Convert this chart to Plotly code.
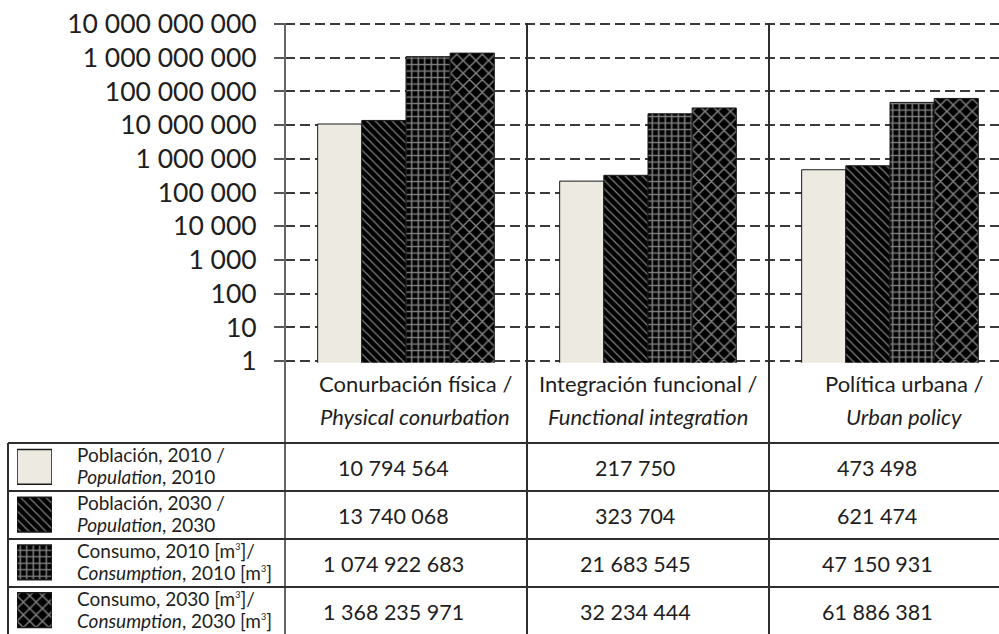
import plotly.graph_objects as go

# ---------------- data ----------------
categories_es = ["Conurbación física /", "Integración funcional /", "Política urbana /"]
categories_en = ["Physical conurbation", "Functional integration", "Urban policy"]

SUP3 = "<sup><span style='font-size:9px'>3</span></sup>"
series_es = ["Población, 2010 /", "Población, 2030 /",
             f"Consumo, 2010 [m{SUP3}]/", f"Consumo, 2030 [m{SUP3}]/"]
series_en = ["<i>Population</i>, 2010", "<i>Population</i>, 2030",
             f"<i>Consumption</i>, 2010 [m{SUP3}]", f"<i>Consumption</i>, 2030 [m{SUP3}]"]

population_2010 = [10794564, 217750, 473498]
population_2030 = [13740068, 323704, 621474]
consumption_2010 = [1074922683, 21683545, 47150931]
consumption_2030 = [1368235971, 32234444, 61886381]
series_values = [population_2010, population_2030, consumption_2010, consumption_2030]

ytick_exponents = list(range(0, 11))

# ---------------- style ----------------
W, H = 999, 634
FONT = "Lato"
TXT = "#1e1e1e"
LINE = "#2e2e2e"
GRID = "#3a3a3a"
pat_shape = ["", "\\", "+", "x"]
pat_size = [8, 6, 6.5, 9]
pat_solid = [0.2, 0.2, 0.42, 0.3]
fill_col = ["#ECEAE1", "black", "black", "black"]


def fmt(v):
    return f"{v:,}".replace(",", " ")


def xp(px):          # screen px -> paper x
    return px / W


def yp(px):          # screen px -> paper y
    return 1 - px / H


plot_left, plot_top, plot_bottom = 285, 24, 361
cat_px = 242
right_px = 999
pad = 0.05                                   # decades of padding so edge gridlines are drawn
dec_px = (plot_bottom - plot_top) / (ytick_exponents[-1] - ytick_exponents[0])

fig = go.Figure()
xs = list(range(len(categories_es)))
for i, vals in enumerate(series_values):
    fig.add_trace(go.Bar(
        x=xs, y=vals, showlegend=False, hoverinfo="skip",
        marker=dict(color=fill_col[i], line=dict(color="#1a1a1a", width=1),
                    pattern=dict(shape=pat_shape[i], fgcolor="white", bgcolor=fill_col[i],
                                 size=pat_size[i], solidity=pat_solid[i], fillmode="overlay")),
    ))

# legend swatches in the table's first column
fig.add_trace(go.Bar(
    x=[1] * 4, y=list(range(4)), base=0, orientation="h", width=0.73,
    xaxis="x2", yaxis="y2", showlegend=False, hoverinfo="skip",
    marker=dict(color=fill_col, line=dict(color="#1a1a1a", width=1.5),
                pattern=dict(shape=pat_shape, fgcolor=["white"] * 4, bgcolor=fill_col,
                             size=pat_size, solidity=pat_solid, fillmode="overlay")),
))

fig.update_layout(
    width=W, height=H, margin=dict(l=0, r=0, t=0, b=0, autoexpand=False),
    paper_bgcolor="white", plot_bgcolor="white",
    barmode="group", bargap=0.27, bargroupgap=0,
    font=dict(family=FONT, color=TXT),
    xaxis=dict(domain=[xp(plot_left), 1],
               range=[-0.5, -0.5 + (right_px - plot_left) / cat_px],
               showticklabels=False, showgrid=False, zeroline=False, showline=False, ticks="",
               automargin=False),
    yaxis=dict(domain=[yp(plot_bottom + pad * dec_px), yp(plot_top - pad * dec_px)],
               type="log", range=[ytick_exponents[0] - pad, ytick_exponents[-1] + pad],
               tickvals=[10 ** e for e in ytick_exponents],
               ticktext=[fmt(10 ** e) for e in ytick_exponents],
               tickfont=dict(size=26.5, family=FONT, color=TXT),
               ticklabelstandoff=12, ticklabeloverflow="allow",
               showgrid=True, gridcolor=GRID, gridwidth=1.5, griddash="10px,5px",
               ticks="outside", ticklen=10, tickcolor="#555", tickwidth=1.5,
               showline=False, zeroline=False, automargin=False),
    xaxis2=dict(domain=[xp(17), xp(52)], range=[0, 1], anchor="y2", visible=False, automargin=False),
    yaxis2=dict(domain=[yp(634), yp(443)], range=[3.5, -0.5], anchor="x2",
                visible=False, automargin=False),
)

shapes = []
# vertical separators (axis line and category borders)
for k in range(len(categories_es)):
    xpx = plot_left + k * cat_px
    col = "#666" if k == 0 else LINE
    shapes.append(dict(type="line", xref="paper", yref="paper", x0=xp(xpx), x1=xp(xpx),
                       y0=yp(plot_top - 1), y1=0, line=dict(color=col, width=2)))
# table horizontal rules
row_tops = [443, 491, 539, 587]
for r in row_tops:
    shapes.append(dict(type="line", xref="paper", yref="paper", x0=xp(8), x1=1,
                       y0=yp(r), y1=yp(r), line=dict(color=LINE, width=2)))
shapes.append(dict(type="line", xref="paper", yref="paper", x0=xp(8), x1=xp(8),
                   y0=yp(443), y1=0, line=dict(color=LINE, width=2)))
fig.update_layout(shapes=shapes)

ann = []
label_shift = [9, 0, 14]
for i, (es, en) in enumerate(zip(categories_es, categories_en)):
    ann.append(dict(x=i, xref="x", y=yp(383), yref="paper", text=es, showarrow=False,
                    xanchor="center", yanchor="middle", xshift=label_shift[i],
                    font=dict(size=22, family=FONT, color=TXT)))
    ann.append(dict(x=i, xref="x", y=yp(416), yref="paper", text=f"<i>{en}</i>", showarrow=False,
                    xanchor="center", yanchor="middle", xshift=label_shift[i],
                    font=dict(size=22, family=FONT, color=TXT)))

for r, (vals, es, en) in enumerate(zip(series_values, series_es, series_en)):
    top = row_tops[r]
    ann.append(dict(x=xp(75), xref="paper", y=yp(top + 11), yref="paper", text=es, showarrow=False,
                    xanchor="left", yanchor="middle", font=dict(size=19, family=FONT, color=TXT)))
    ann.append(dict(x=xp(75), xref="paper", y=yp(top + 33), yref="paper", text=en, showarrow=False,
                    xanchor="left", yanchor="middle", font=dict(size=19, family=FONT, color=TXT)))
    for i, v in enumerate(vals):
        ann.append(dict(x=i, xref="x", y=yp(top + 25), yref="paper", text=fmt(v), showarrow=False,
                        xanchor="center", yanchor="middle", xshift=-13,
                        font=dict(size=21.5, family=FONT, color=TXT)))
fig.update_layout(annotations=ann)

# remove the default 8px page margin so the 999x634 figure fills the window exactly
fig.write_html("out.html", config={"displayModeBar": False},
               post_script="document.body.style.margin='0';document.body.style.overflow='hidden';")
